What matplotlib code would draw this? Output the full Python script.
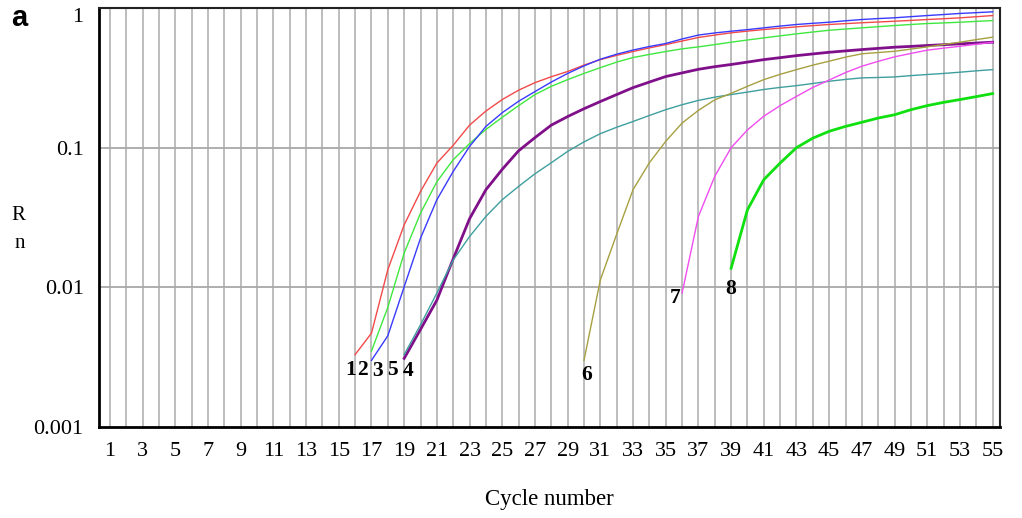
import numpy as np
import matplotlib
matplotlib.use("Agg")
import matplotlib.pyplot as plt

# amplification curves (Rn, log scale)
c1 = list(range(16, 56))
r1 = [0.0033, 0.0047, 0.0134, 0.028, 0.0486, 0.0776, 0.104, 0.145, 0.183, 0.221,
      0.258, 0.292, 0.322, 0.351, 0.39, 0.427, 0.458, 0.488, 0.518, 0.547,
      0.58, 0.615, 0.64, 0.664, 0.683, 0.701, 0.717, 0.733, 0.748, 0.762,
      0.773, 0.784, 0.794, 0.804, 0.815, 0.827, 0.838, 0.85, 0.866, 0.883]

c2 = list(range(17, 56))
r2 = [0.0035, 0.0072, 0.0176, 0.034, 0.057, 0.082, 0.107, 0.135, 0.165, 0.20,
      0.24, 0.275, 0.307, 0.34, 0.374, 0.41, 0.442, 0.465, 0.488, 0.51,
      0.527, 0.547, 0.569, 0.59, 0.611, 0.632, 0.653, 0.673, 0.693, 0.707,
      0.721, 0.735, 0.749, 0.762, 0.774, 0.782, 0.791, 0.802, 0.813]

c3 = list(range(17, 56))
r3 = [0.0030, 0.0045, 0.0101, 0.0225, 0.0424, 0.0676, 0.102, 0.142, 0.178, 0.215,
      0.252, 0.295, 0.34, 0.385, 0.43, 0.467, 0.50, 0.53, 0.557, 0.60,
      0.64, 0.663, 0.682, 0.70, 0.721, 0.742, 0.762, 0.777, 0.791, 0.81,
      0.827, 0.84, 0.851, 0.867, 0.883, 0.898, 0.914, 0.926, 0.939]

c4 = list(range(19, 56))
r4 = [0.0031, 0.0050, 0.0081, 0.016, 0.031, 0.050, 0.070, 0.095, 0.118, 0.145,
      0.167, 0.19, 0.214, 0.24, 0.269, 0.295, 0.323, 0.343, 0.364, 0.38,
      0.394, 0.41, 0.427, 0.441, 0.456, 0.469, 0.482, 0.493, 0.504, 0.514,
      0.524, 0.531, 0.539, 0.546, 0.554, 0.561, 0.569]

c5 = list(range(19, 56))
r5 = [0.0033, 0.0054, 0.0091, 0.0157, 0.0231, 0.0322, 0.0424, 0.0528, 0.065, 0.078,
      0.094, 0.11, 0.126, 0.14, 0.154, 0.17, 0.187, 0.203, 0.218, 0.23,
      0.24, 0.25, 0.261, 0.27, 0.278, 0.288, 0.299, 0.308, 0.316, 0.318,
      0.321, 0.328, 0.334, 0.34, 0.347, 0.355, 0.362]

c6 = list(range(30, 56))
r6 = [0.0030, 0.0113, 0.024, 0.050, 0.078, 0.111, 0.15, 0.185, 0.22, 0.245,
      0.275, 0.307, 0.335, 0.362, 0.39, 0.416, 0.445, 0.47, 0.48, 0.49,
      0.508, 0.527, 0.548, 0.569, 0.594, 0.618]

c7 = list(range(36, 56))
r7 = [0.0091, 0.0322, 0.0623, 0.10, 0.134, 0.168, 0.20, 0.233, 0.27, 0.305,
      0.345, 0.383, 0.415, 0.447, 0.473, 0.499, 0.516, 0.532, 0.55, 0.569]

c8 = list(range(39, 56))
r8 = [0.0137, 0.0359, 0.059, 0.0776, 0.10, 0.117, 0.131, 0.142, 0.152, 0.163,
      0.172, 0.187, 0.20, 0.211, 0.221, 0.232, 0.244]

curves = [
    ("1", c1, r1, "#f24a4a", 1.0, (-3.6, -11.0)),
    ("2", c2, r2, "#3fe83f", 1.0, (-6.2, -14.0)),
    ("3", c3, r3, "#3a3aff", 1.0, (4.6, -8.0)),
    ("4", c4, r4, "#80108a", 2.0, (2.9, -9.0)),
    ("5", c5, r5, "#3f9f9f", 1.0, (-8.6, -11.0)),
    ("6", c6, r6, "#a6a040", 1.0, (2.2, -10.8)),
    ("7", c7, r7, "#f04cf0", 1.0, (-5.0, -3.6)),
    ("8", c8, r8, "#10e010", 2.0, (0.0, -15.0)),
]

x_ticks = list(range(1, 56, 2))
y_ticks = [0.001, 0.01, 0.1, 1]
y_tick_labels = ["0.001", "0.01", "0.1", "1"]

serif = ["Liberation Serif", "DejaVu Serif"]

fig = plt.figure(figsize=(10.22, 5.18), dpi=100)
ax = fig.add_axes([99 / 1022, 1 - 427 / 518, 901 / 1022, 419 / 518])

ax.set_yscale("log")
ax.set_xlim(0.33, 55.45)
ax.set_ylim(0.001, 1.0)

# grid: every cycle, every decade
for c in range(1, 56):
    ax.axvline(c, color="#b8b8b8", lw=1.3, zorder=1)
for y in y_ticks[1:3]:
    ax.axhline(y, color="#a8a8a8", lw=1.3, zorder=1)

for name, cx, ry, col, lw, off in curves:
    ax.plot(cx, ry, color=col, lw=lw, zorder=3)
    ax.annotate(name, xy=(cx[0], ry[0]), xytext=off, textcoords="offset points",
                ha="center", va="center", fontsize=15.5, fontweight="bold",
                family=serif, color="black", zorder=4)

ax.set_xticks(x_ticks)
ax.set_xticklabels([str(t) for t in x_ticks], family=serif, fontsize=16)
ax.set_yticks(y_ticks)
ax.set_yticklabels(y_tick_labels, family=serif, fontsize=16)
ax.yaxis.set_minor_locator(matplotlib.ticker.NullLocator())
ax.tick_params(axis="x", length=0, pad=11)
ax.tick_params(axis="y", length=0, pad=11)
ax.get_yticklabels()[-1].set_va("top")

for side in ["left", "bottom"]:
    ax.spines[side].set_linewidth(2.0)
    ax.spines[side].set_color("black")
for side in ["top", "right"]:
    ax.spines[side].set_linewidth(1.5)
    ax.spines[side].set_color("#222222")

fig.text(18 / 1022, 1 - 215 / 518, "R", family=serif, fontsize=15, ha="center", va="center")
fig.text(20 / 1022, 1 - 243 / 518, "n", family=serif, fontsize=15, ha="center", va="center")
fig.text(549 / 1022, 1 - 500 / 518, "Cycle number", family=serif, fontsize=16.5,
         ha="center", va="center")
fig.text(11 / 1022, 1 - 18 / 518, "a", family=["Liberation Sans", "DejaVu Sans"],
         fontsize=21, fontweight="bold", ha="left", va="center")

fig.savefig("out.png", dpi=100)
